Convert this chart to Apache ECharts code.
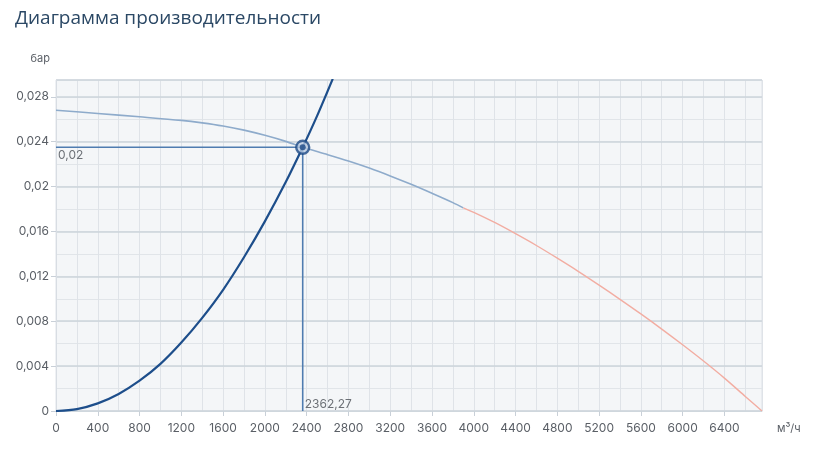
<!DOCTYPE html>
<html>
<head>
<meta charset="utf-8">
<script src="https://cdn.jsdelivr.net/npm/echarts@6/dist/echarts.min.js"></script>
<style>html,body{margin:0;padding:0;background:#fff}#c{width:829px;height:458px}</style>
</head>
<body>
<div id="c"></div>
<script>
// ---- data ----
const titleText = 'Диаграмма производительности';
const yName = 'бар';
const xName = 'м³/ч';
const xMin = 0, xMax = 6760, xStep = 400, xMinorStep = 200;
const yMin = 0, yMax = 0.0295, yStep = 0.004, yMinorStep = 0.002;

// pump curve, working part (blue)
const pumpFlowA = [0, 400, 800, 1200, 1400, 1600, 1800, 2000, 2200, 2362.27, 2600, 2800, 3000, 3200, 3400, 3600, 3800, 3900];
const pumpHeadA = [0.0268, 0.02652, 0.02622, 0.0259, 0.02568, 0.0254, 0.02503, 0.02457, 0.02403, 0.0235, 0.02285, 0.02228, 0.02165, 0.02095, 0.0202, 0.0194, 0.01857, 0.0181];
// pump curve, outside range (red)
const pumpFlowB = [3900, 4000, 4200, 4400, 4600, 4800, 5000, 5200, 5400, 5600, 5800, 6000, 6200, 6400, 6600, 6760];
const pumpHeadB = [0.0181, 0.0177, 0.0168, 0.0158, 0.01475, 0.01362, 0.01245, 0.01122, 0.00995, 0.00865, 0.0073, 0.0059, 0.00445, 0.00293, 0.0013, 0];
// system curve
const sysFlow = [0, 200, 400, 600, 800, 1000, 1200, 1400, 1600, 1800, 2000, 2200, 2362.27, 2500, 2650];
const sysHead = [0, 0.00017, 0.00068, 0.00152, 0.0027, 0.0042, 0.0061, 0.0083, 0.0108, 0.0137, 0.0169, 0.0204, 0.0235, 0.0263, 0.0296];
// operating point
const opFlow = 2362.27;
const opHead = 0.0235;

const pair = (xs, ys) => xs.map((x, i) => [x, ys[i]]);
const fmtNum = v => String(parseFloat(Number(v).toFixed(5))).replace('.', ',');

const FONT = 'Inter';
const labelColor = '#5a5f66';

const chart = echarts.init(document.getElementById('c'), null, {renderer: 'canvas'});
chart.setOption({
  animation: false,
  title: {
    text: titleText, left: 10, top: 4,
    textStyle: {fontFamily: 'Open Sans', fontSize: 19, fontWeight: 500, color: '#2b4865'}
  },
  grid: {
    left: 56, right: 67, top: 80, bottom: 47,
    containLabel: false, outerBoundsMode: 'none',
    show: true, backgroundColor: '#f4f6f8', borderColor: '#dfe3e8', borderWidth: 1
  },
  xAxis: [
    {
      type: 'value', min: xMin, max: xMax, interval: xStep,
      name: xName, nameLocation: 'end', nameGap: 15,
      nameTextStyle: {fontFamily: FONT, fontSize: 11, color: labelColor, verticalAlign: 'top', padding: [12, 0, 0, 0]},
      axisLine: {show: true, lineStyle: {color: '#d8dde3'}},
      axisTick: {show: true, length: 5, lineStyle: {color: '#c9d0d8'}},
      axisLabel: {fontFamily: FONT, fontSize: 12, color: labelColor, margin: 11, showMaxLabel: false, formatter: fmtNum},
      splitLine: {show: false}
    },
    {
      type: 'value', min: xMin, max: xMax, interval: xMinorStep,
      axisLine: {show: false}, axisTick: {show: false}, axisLabel: {show: false},
      splitLine: {show: true, lineStyle: {color: '#dfe3e8', width: 1}}
    }
  ],
  yAxis: [
    {
      type: 'value', min: yMin, max: yMax, interval: yStep,
      name: yName, nameLocation: 'end', nameGap: 16,
      nameTextStyle: {fontFamily: FONT, fontSize: 11, color: labelColor, align: 'right', padding: [0, 6, 0, 0]},
      axisLine: {show: true, lineStyle: {color: '#d8dde3'}},
      axisTick: {show: true, length: 5, lineStyle: {color: '#c9d0d8'}},
      axisLabel: {fontFamily: FONT, fontSize: 12, color: labelColor, margin: 7, showMaxLabel: false, formatter: fmtNum},
      splitLine: {show: true, lineStyle: {color: '#cdd4db', width: 1.5}},
      z: 1
    },
    {
      type: 'value', min: yMin, max: yMax, interval: yMinorStep,
      axisLine: {show: false}, axisTick: {show: false}, axisLabel: {show: false},
      splitLine: {show: true, lineStyle: {color: '#e1e5e9', width: 1}},
      z: 0
    }
  ],
  series: [
    {
      type: 'line', data: [[0, opHead], [opFlow, opHead], [opFlow, 0]],
      showSymbol: false, symbol: 'none', silent: true,
      lineStyle: {color: '#4f7cb0', width: 1.6}, z: 2
    },
    {
      type: 'line', data: pair(pumpFlowA, pumpHeadA), smooth: 0.3,
      showSymbol: false, symbol: 'none',
      lineStyle: {color: '#8eabcb', width: 1.6}, z: 3
    },
    {
      type: 'line', data: pair(pumpFlowB, pumpHeadB), smooth: 0.3,
      showSymbol: false, symbol: 'none',
      lineStyle: {color: '#f2ada2', width: 1.4}, z: 3
    },
    {
      type: 'line', data: pair(sysFlow, sysHead), smooth: 0.3,
      showSymbol: false, symbol: 'none', clip: true,
      lineStyle: {color: '#1d4e8b', width: 2.2}, z: 4
    },
    {
      type: 'scatter', data: [[opFlow, opHead]], symbol: 'circle', symbolSize: 13,
      itemStyle: {color: '#b9cbe1', borderColor: '#1d4a86', borderWidth: 2.4}, z: 5, silent: true
    },
    {
      type: 'scatter', data: [[opFlow, opHead]], symbol: 'circle', symbolSize: 6,
      itemStyle: {color: '#1d4a86'}, z: 6, silent: true
    },
    {
      type: 'scatter', symbolSize: 0, silent: true, z: 6,
      data: [
        {value: [0, opHead], label: {show: true, position: 'right', distance: 2, offset: [0, 8], formatter: () => opHead.toFixed(2).replace('.', ',')}},
        {value: [opFlow, 0], label: {show: true, position: 'right', distance: 2, offset: [0, -7], formatter: () => fmtNum(opFlow)}}
      ],
      label: {fontFamily: FONT, fontSize: 12, color: '#4a4f55'}
    }
  ]
});
</script>
</body>
</html>
